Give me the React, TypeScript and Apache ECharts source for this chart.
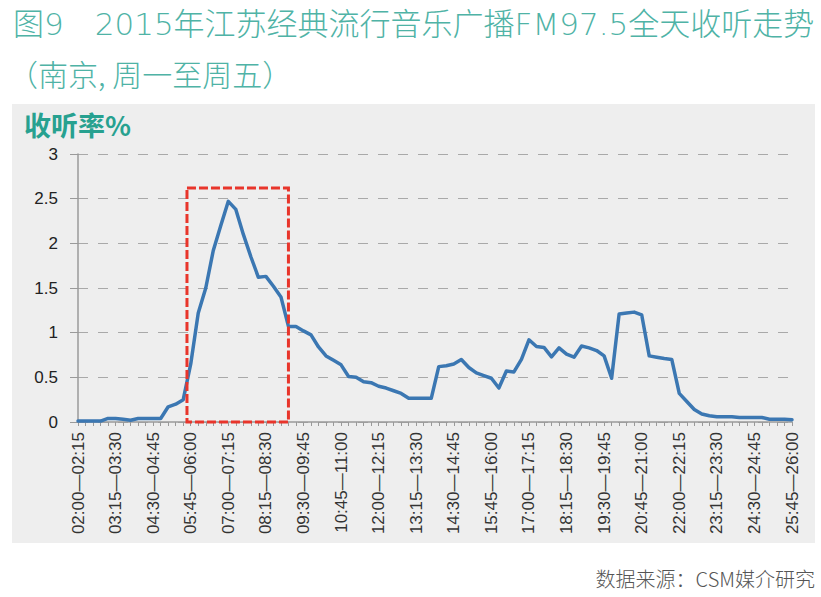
import React, { useEffect, useRef } from "react";
import * as echarts from "echarts";

const titleLine1 = "图9　2015年江苏经典流行音乐广播FM97.5全天收听走势";
const titleLine2 = "（南京, 周一至周五）";
const yAxisName = "收听率%";
const sourceNote = "数据来源：CSM媒介研究";

// 15-minute time slots from 02:00 to 26:00
const slotStartHour = 2;
const slotCount = 96;
const slotMinutes = 15;
const hhmm = (m: number) =>
  String(Math.floor(m / 60)).padStart(2, "0") + ":" + String(m % 60).padStart(2, "0");
const timeSlots: string[] = Array.from({ length: slotCount }, (_, i) => {
  const s = slotStartHour * 60 + i * slotMinutes;
  return hhmm(s) + "—" + hhmm(s + slotMinutes);
});

// 收听率 % per slot
const ratings: number[] = [
  0.01, 0.01, 0.01, 0.01, 0.04, 0.04, 0.03, 0.02, 0.04, 0.04,
  0.04, 0.04, 0.17, 0.2, 0.25, 0.65, 1.22, 1.5, 1.92, 2.2,
  2.47, 2.38, 2.1, 1.85, 1.62, 1.63, 1.52, 1.4, 1.07, 1.07,
  1.02, 0.975, 0.84, 0.74, 0.69, 0.64, 0.51, 0.5, 0.45, 0.44,
  0.4, 0.38, 0.35, 0.32, 0.265, 0.265, 0.265, 0.265, 0.62, 0.63,
  0.65, 0.7, 0.61, 0.55, 0.52, 0.49, 0.38, 0.57, 0.56, 0.7,
  0.92, 0.845, 0.835, 0.73, 0.83, 0.76, 0.725, 0.85, 0.83, 0.8,
  0.74, 0.49, 1.21, 1.22, 1.23, 1.2, 0.74, 0.725, 0.71, 0.7,
  0.32, 0.23, 0.14, 0.09, 0.07, 0.06, 0.06, 0.06, 0.05, 0.05,
  0.05, 0.05, 0.03, 0.03, 0.03, 0.025,
];

const yMin = 0;
const yMax = 3;
const yInterval = 0.5;
const labelEvery = 5;

// morning peak highlight box (slot index range and top value)
const highlightSlots = [14.5, 28];
const highlightTop = 2.62;

const TEAL_LIGHT = "#4fb3a6";
const TEAL_DARK = "#27a190";
const AXIS_GRAY = "#9a9a9a";

export default function App() {
  const ref = useRef<HTMLDivElement>(null);

  useEffect(() => {
    if (!ref.current) return;
    const chart = echarts.init(ref.current, undefined, { renderer: "svg" });
    chart.setOption({
      animation: false,
      backgroundColor: "#ffffff",
      grid: { left: 78, right: 29, top: 154, bottom: 175, containLabel: false },
      xAxis: {
        type: "category",
        data: timeSlots,
        boundaryGap: false,
        axisLine: { show: true, lineStyle: { color: AXIS_GRAY, width: 1.5 } },
        axisTick: { show: true, interval: 0, length: 4, lineStyle: { color: AXIS_GRAY } },
        axisLabel: {
          interval: labelEvery - 1,
          rotate: 90,
          fontSize: 17,
          color: "#333",
          margin: 10,
          fontFamily: "Liberation Sans, Arial, sans-serif",
        },
        splitLine: { show: false },
      },
      yAxis: {
        type: "value",
        min: yMin,
        max: yMax,
        interval: yInterval,
        axisLine: { show: true, lineStyle: { color: AXIS_GRAY, width: 1.5 } },
        axisTick: { show: true, length: 8, lineStyle: { color: AXIS_GRAY } },
        axisLabel: {
          fontSize: 17,
          color: "#222",
          margin: 20,
          fontFamily: "Liberation Sans, Arial, sans-serif",
        },
        splitLine: { show: true, lineStyle: { type: [10, 10], color: "#a9a9a9", width: 1 } },
      },
      series: [
        {
          type: "line",
          data: ratings,
          symbol: "none",
          showSymbol: false,
          lineStyle: { color: "#3b77b2", width: 3.5, cap: "round", join: "round" },
          z: 5,
        },
      ],
    });

    const px = (idx: number, v: number) => {
      const lo = Math.floor(idx);
      const hi = Math.ceil(idx);
      const a = chart.convertToPixel({ xAxisIndex: 0, yAxisIndex: 0 }, [lo, v]) as number[];
      const b = chart.convertToPixel({ xAxisIndex: 0, yAxisIndex: 0 }, [hi, v]) as number[];
      const t = hi === lo ? 0 : (idx - lo) / (hi - lo);
      return [a[0] + (b[0] - a[0]) * t, a[1]];
    };
    const p1 = px(highlightSlots[0], highlightTop);
    const p2 = px(highlightSlots[1], yMin);

    chart.setOption({
      graphic: [
        {
          type: "rect",
          id: "panel",
          shape: { x: 12, y: 104, width: 803, height: 439 },
          style: { fill: "#eeeeee" },
          z: -10,
          silent: true,
        },
        {
          type: "rect",
          id: "highlight",
          shape: { x: p1[0], y: p1[1], width: p2[0] - p1[0], height: p2[1] - p1[1] },
          style: { fill: "none", stroke: "#e8352b", lineWidth: 3, lineDash: [9, 3] },
          z: 100,
          silent: true,
        },
        {
          type: "text",
          id: "t1",
          x: 13,
          y: 24,
          style: {
            text: titleLine1,
            fill: TEAL_LIGHT,
            fontSize: 31,
            fontWeight: 300,
            fontFamily: "DejaVu Sans, Noto Sans CJK SC, sans-serif",
            textAlign: "left",
            textVerticalAlign: "middle",
          },
        },
        {
          type: "text",
          id: "t2",
          x: 8,
          y: 73,
          style: {
            text: titleLine2,
            fill: TEAL_LIGHT,
            fontSize: 30,
            fontWeight: 300,
            fontFamily: "Noto Sans CJK SC, sans-serif",
            textAlign: "left",
            textVerticalAlign: "middle",
          },
        },
        {
          type: "text",
          id: "yname",
          x: 24,
          y: 124,
          style: {
            text: yAxisName,
            fill: TEAL_DARK,
            fontSize: 27,
            fontWeight: "bold",
            fontFamily: "Noto Sans CJK SC, sans-serif",
            textAlign: "left",
            textVerticalAlign: "middle",
          },
        },
        {
          type: "text",
          id: "src",
          x: 815,
          y: 578,
          style: {
            text: sourceNote,
            fill: "#555",
            fontSize: 20,
            fontWeight: 300,
            fontFamily: "Noto Sans CJK SC, sans-serif",
            textAlign: "right",
            textVerticalAlign: "middle",
          },
        },
      ],
    });

    return () => chart.dispose();
  }, []);

  return (
    <div
      ref={ref}
      style={{ position: "absolute", left: 0, top: 0, width: 821, height: 597 }}
    />
  );
}
